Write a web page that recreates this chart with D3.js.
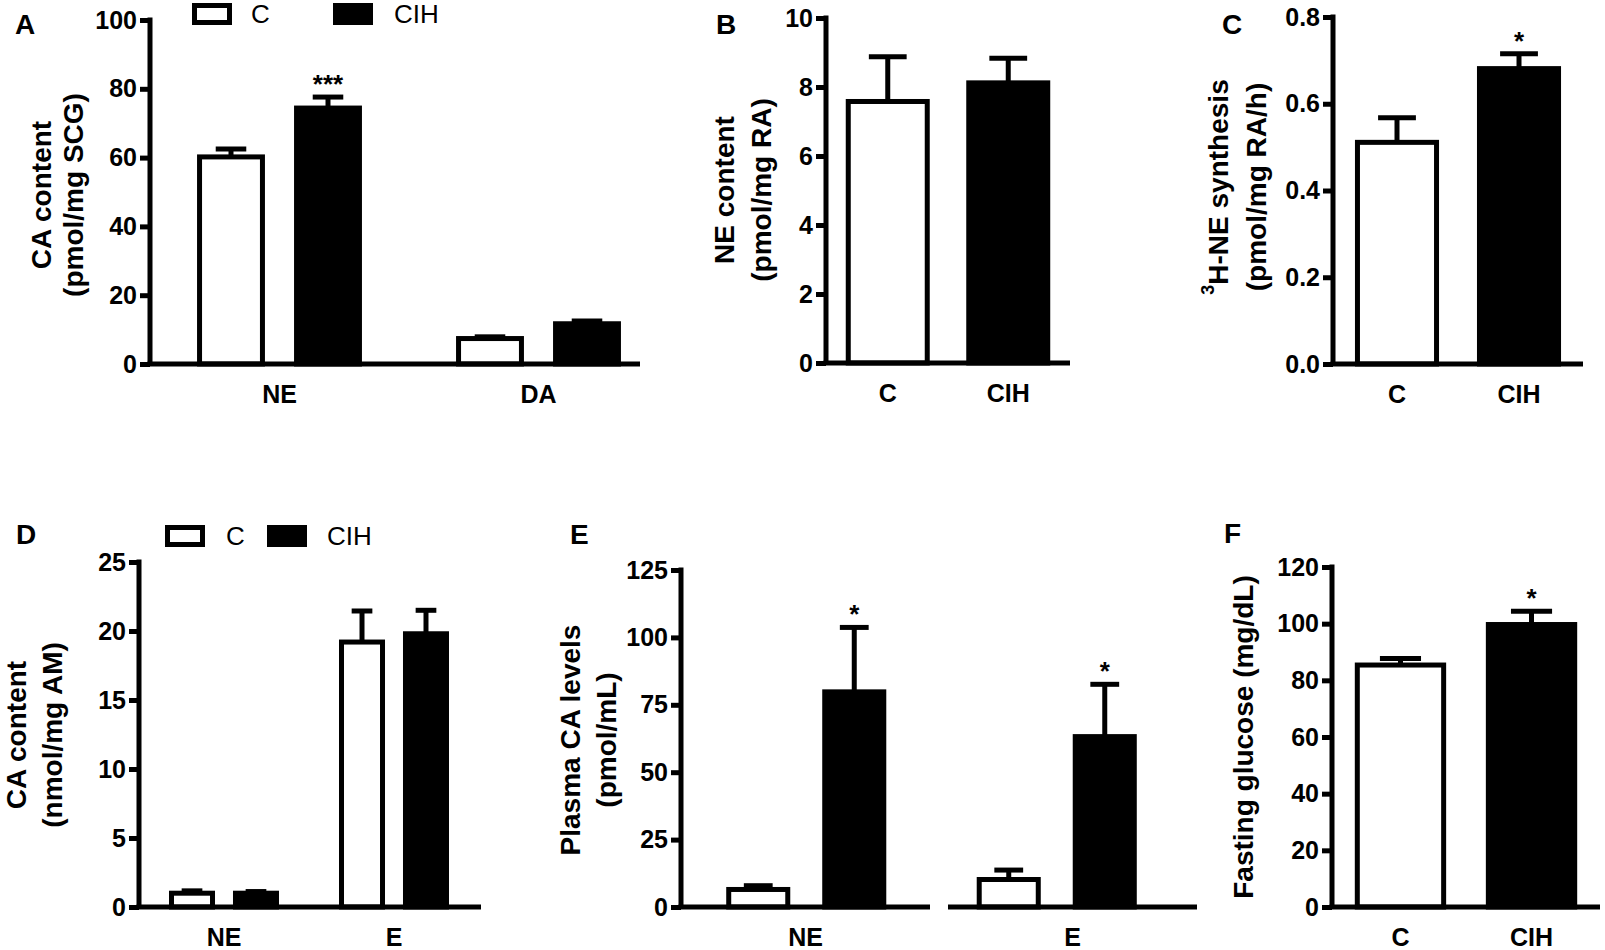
<!DOCTYPE html>
<html><head><meta charset="utf-8">
<script src="https://cdn.jsdelivr.net/npm/d3@7"></script>
<style>
html,body{margin:0;padding:0;background:#fff;}
svg{display:block;}
text{font-family:"Liberation Sans", Arial, Helvetica, sans-serif;fill:#000;}
</style></head><body>
<svg id="chart" width="1605" height="950"></svg>
<script>
// ---------------- data ----------------
const seriesNames = ["C", "CIH"];

// Panel A: CA content (pmol/mg SCG)
const aGroups = ["NE", "DA"];
const aC = [60.2, 7.4];
const aCErr = [2.3, 0.5];
const aCIH = [74.4, 11.7];
const aCIHErr = [3.2, 0.8];
const aSig = ["***", ""];
const aTicks = [0, 20, 40, 60, 80, 100];

// Panel B: NE content (pmol/mg RA)
const bCats = ["C", "CIH"];
const bValues = [7.58, 8.12];
const bErr = [1.3, 0.71];
const bSig = ["", ""];
const bTicks = [0, 2, 4, 6, 8, 10];

// Panel C: 3H-NE synthesis (pmol/mg RA/h)
const cCats = ["C", "CIH"];
const cValues = [0.511, 0.681];
const cErr = [0.057, 0.034];
const cSig = ["", "*"];
const cTicks = [0, 0.2, 0.4, 0.6, 0.8];

// Panel D: CA content (nmol/mg AM)
const dGroups = ["NE", "E"];
const dC = [1.0, 19.2];
const dCErr = [0.17, 2.25];
const dCIH = [1.0, 19.8];
const dCIHErr = [0.12, 1.7];
const dSig = ["", ""];
const dTicks = [0, 5, 10, 15, 20, 25];

// Panel E: Plasma CA levels (pmol/mL)
const eGroups = ["NE", "E"];
const eC = [6.5, 10.2];
const eCErr = [1.4, 3.5];
const eCIH = [79.8, 63.2];
const eCIHErr = [23.9, 19.4];
const eSig = ["*", "*"];
const eTicks = [0, 25, 50, 75, 100, 125];

// Panel F: Fasting glucose (mg/dL)
const fCats = ["C", "CIH"];
const fValues = [85.4, 99.7];
const fErr = [2.3, 4.7];
const fSig = ["", "*"];
const fTicks = [0, 20, 40, 60, 80, 100, 120];

// ---------------- drawing ----------------
const svg = d3.select("#chart");
const SW = 5;
const FONT = '"Liberation Sans", Arial, sans-serif';
const fills = {"C": "#fff", "CIH": "#000"};

function letter(t, x, y) {
  svg.append("text").attr("x", x).attr("y", y).attr("font-size", 28)
    .attr("font-weight", "bold").text(t);
}

function yAxis(y, ticks, fmt, x0) {
  const axis = d3.axisLeft(y).tickValues(ticks).tickFormat(fmt)
    .tickSize(10).tickSizeOuter(0).tickPadding(3);
  const a = svg.append("g").attr("transform", `translate(${x0},0)`).call(axis);
  a.select(".domain").attr("stroke", "#000").attr("stroke-width", SW).attr("fill", "none")
    .attr("d", `M0,${y(0)}V${y(ticks[ticks.length - 1]) - SW / 2}`);
  a.selectAll(".tick line").attr("stroke", "#000").attr("stroke-width", SW);
  a.selectAll(".tick text").attr("font-size", 25).attr("font-weight", "bold")
    .attr("fill", "#000").attr("font-family", FONT);
}

function xLine(x1, x2, yv) {
  svg.append("line").attr("x1", x1).attr("x2", x2).attr("y1", yv).attr("y2", yv)
    .attr("stroke", "#000").attr("stroke-width", SW);
}

function xLabels(band, yv) {
  const a = svg.append("g").attr("transform", `translate(0,${yv})`)
    .call(d3.axisBottom(band).tickSize(0).tickPadding(21));
  a.select(".domain").remove();
  a.selectAll(".tick text").attr("font-size", 25).attr("font-weight", "bold")
    .attr("fill", "#000").attr("font-family", FONT);
}

function titles(lines, xs, yc) {
  lines.forEach((ln, i) => {
    const t = svg.append("text")
      .attr("transform", `translate(${xs[i]},${yc}) rotate(-90)`)
      .attr("text-anchor", "middle").attr("dominant-baseline", "central")
      .attr("font-size", 28).attr("font-weight", "bold");
    if (Array.isArray(ln)) {
      t.append("tspan").attr("font-size", 18).attr("dy", -10).text(ln[0]);
      t.append("tspan").attr("dy", 10).text(ln[1]);
    } else t.text(ln);
  });
}

function bars(rows, y) {
  const g = svg.append("g");
  rows.forEach(r => {
    const cx = r.x + r.w / 2, capW = r.w * 0.45;
    g.append("line").attr("x1", cx).attr("x2", cx).attr("y1", y(r.v)).attr("y2", y(r.v + r.e))
      .attr("stroke", "#000").attr("stroke-width", SW);
    g.append("line").attr("x1", cx - capW / 2).attr("x2", cx + capW / 2)
      .attr("y1", y(r.v + r.e)).attr("y2", y(r.v + r.e))
      .attr("stroke", "#000").attr("stroke-width", SW);
    if (r.sig) {
      g.append("text").attr("x", cx).attr("y", y(r.v + r.e) - 4).attr("text-anchor", "middle")
        .attr("font-size", 26).attr("font-weight", "bold").text(r.sig);
    }
  });
  g.selectAll("rect").data(rows).join("rect")
    .attr("x", d => d.x + SW / 2).attr("width", d => d.w - SW)
    .attr("y", d => y(d.v)).attr("height", d => y(0) - y(d.v))
    .attr("fill", d => fills[d.s]).attr("stroke", "#000").attr("stroke-width", SW);
}

function legend(yTop, boxXs, textXs, baseline) {
  seriesNames.forEach((s, i) => {
    svg.append("rect").attr("x", boxXs[i] + SW / 2).attr("y", yTop + SW / 2)
      .attr("width", 40 - SW).attr("height", 22 - SW)
      .attr("fill", fills[s]).attr("stroke", "#000").attr("stroke-width", SW);
    svg.append("text").attr("x", textXs[i]).attr("y", baseline)
      .attr("font-size", 26).attr("font-weight", "normal").text(s);
  });
}

function groupedPanel(cfg) {
  const y = d3.scaleLinear().domain([0, cfg.ticks[cfg.ticks.length - 1]]).range(cfg.yRange);
  const gx = d3.scaleBand().domain(cfg.groups).range(cfg.groupRange).paddingInner(cfg.groupPad || 0);
  const ix = d3.scaleBand().domain(seriesNames).range([0, gx.bandwidth()])
    .paddingInner(cfg.pi).paddingOuter(cfg.po);
  const rows = [];
  cfg.groups.forEach((g, i) => {
    cfg.series.forEach((s, j) => {
      rows.push({s: seriesNames[j], v: s.v[i], e: s.e[i], sig: s.sig ? s.sig[i] : "",
                 x: gx(g) + ix(seriesNames[j]), w: ix.bandwidth()});
    });
  });
  bars(rows, y);
  let labelScale = gx;
  if (cfg.segRange) {
    // broken x axis: one segment per group
    const sx = d3.scaleBand().domain(cfg.groups).range(cfg.segRange).paddingInner(cfg.segPad);
    cfg.groups.forEach((g, i) => xLine(i === 0 ? cfg.axisX - SW / 2 : sx(g), sx(g) + sx.bandwidth(), y(0)));
    labelScale = sx;
  } else {
    xLine(cfg.axisX - SW / 2, cfg.xEnd, y(0));
  }
  yAxis(y, cfg.ticks, cfg.fmt || d3.format("d"), cfg.axisX);
  xLabels(labelScale, y(0));
  titles(cfg.titles, cfg.titleX, cfg.titleY);
  letter(cfg.letter, cfg.letterPos[0], cfg.letterPos[1]);
}

function simplePanel(cfg) {
  const y = d3.scaleLinear().domain([0, cfg.ticks[cfg.ticks.length - 1]]).range(cfg.yRange);
  const x = d3.scaleBand().domain(cfg.cats).range([cfg.axisX, cfg.xEnd])
    .paddingInner(cfg.pi).paddingOuter(cfg.po);
  const rows = cfg.cats.map((c, i) => ({s: seriesNames[i], v: cfg.values[i], e: cfg.err[i],
    sig: cfg.sig[i], x: x(c), w: x.bandwidth()}));
  bars(rows, y);
  xLine(cfg.axisX - SW / 2, cfg.xEnd, y(0));
  yAxis(y, cfg.ticks, cfg.fmt || d3.format("d"), cfg.axisX);
  xLabels(x, y(0));
  titles(cfg.titles, cfg.titleX, cfg.titleY);
  letter(cfg.letter, cfg.letterPos[0], cfg.letterPos[1]);
}

// Panel A
groupedPanel({letter: "A", letterPos: [15, 34], axisX: 150, xEnd: 640, yRange: [364, 20],
  ticks: aTicks, groups: aGroups, groupRange: [150, 668], pi: 0.3, po: 0.485,
  series: [{v: aC, e: aCErr}, {v: aCIH, e: aCIHErr, sig: aSig}],
  titles: ["CA content", "(pmol/mg SCG)"], titleX: [41, 73], titleY: 195});
legend(3, [192, 333], [251, 394], 23);

// Panel B
simplePanel({letter: "B", letterPos: [716, 34], axisX: 826, xEnd: 1070, yRange: [363, 18],
  ticks: bTicks, cats: bCats, values: bValues, err: bErr, sig: bSig, pi: 0.303, po: 0.164,
  titles: ["NE content", "(pmol/mg RA)"], titleX: [724, 761], titleY: 190});

// Panel C
simplePanel({letter: "C", letterPos: [1222, 34], axisX: 1333, xEnd: 1583, yRange: [364, 17],
  ticks: cTicks, fmt: d3.format(".1f"), cats: cCats, values: cValues, err: cErr, sig: cSig,
  pi: 0.311, po: 0.18,
  titles: [["3", "H-NE synthesis"], "(pmol/mg RA/h)"], titleX: [1218, 1256], titleY: 187});

// Panel D
groupedPanel({letter: "D", letterPos: [16, 544], axisX: 139, xEnd: 481, yRange: [907, 562],
  ticks: dTicks, groups: dGroups, groupRange: [139, 479], pi: 0.281, po: 0.469,
  series: [{v: dC, e: dCErr}, {v: dCIH, e: dCIHErr, sig: dSig}],
  titles: ["CA content", "(nmol/mg AM)"], titleX: [16, 52], titleY: 735});
legend(525, [165, 267], [226, 327], 545);

// Panel E
groupedPanel({letter: "E", letterPos: [570, 544], axisX: 681, yRange: [907, 570],
  ticks: eTicks, groups: eGroups, groupRange: [681, 1182], pi: 0.333, po: 0.471,
  segRange: [681, 1197], segPad: 0.0674,
  series: [{v: eC, e: eCErr}, {v: eCIH, e: eCIHErr, sig: eSig}],
  titles: ["Plasma CA levels", "(pmol/mL)"], titleX: [570, 606], titleY: 740});

// Panel F
simplePanel({letter: "F", letterPos: [1224, 543], axisX: 1332, xEnd: 1600, yRange: [907, 567],
  ticks: fTicks, cats: fCats, values: fValues, err: fErr, sig: fSig, pi: 0.303, po: 0.174,
  titles: ["Fasting glucose (mg/dL)"], titleX: [1243], titleY: 737});
</script>
</body></html>
